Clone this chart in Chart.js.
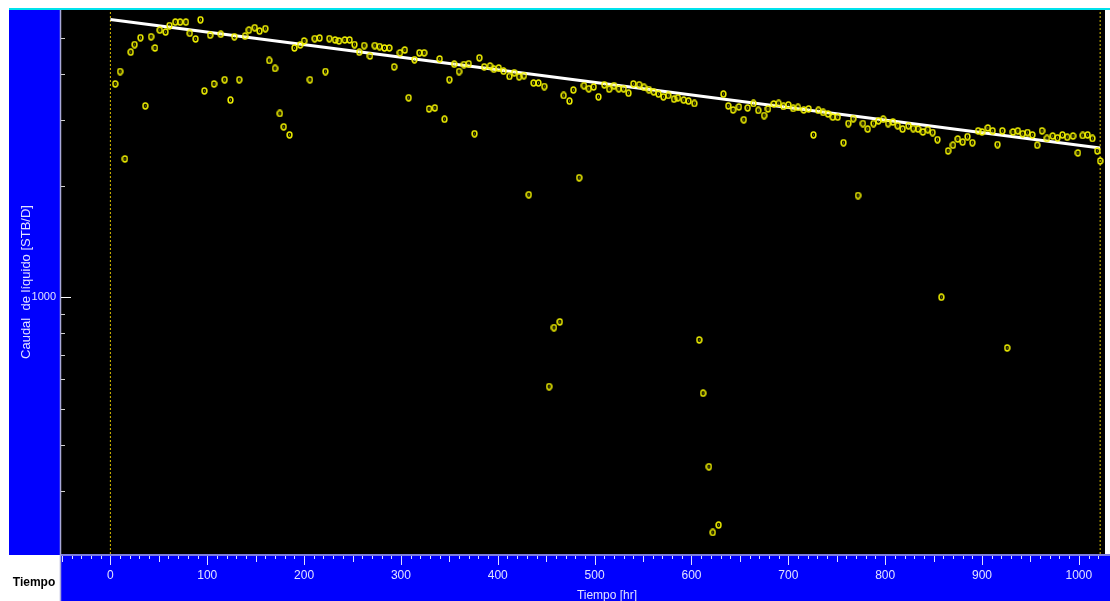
<!DOCTYPE html>
<html>
<head>
<meta charset="utf-8">
<title>Caudal de líquido vs Tiempo</title>
<script src="https://cdn.jsdelivr.net/npm/chart.js@4.4.1/dist/chart.umd.min.js"></script>
<style>
  html, body { margin: 0; padding: 0; background: #ffffff; overflow: hidden; }
  #wrap { width: 1110px; height: 601px; }
</style>
</head>
<body>
<div id="wrap"><canvas id="rateChart" width="1110" height="601"></canvas></div>
<script>
// measured liquid rate (STB/D) against elapsed time (hr)
const timeHr = [
  5, 10, 15, 21, 25, 31, 36, 42, 46, 51,
  57, 61, 67, 72, 78, 82, 88, 93, 97, 103,
  107, 114, 118, 124, 128, 133, 139, 143, 149, 154,
  160, 164, 170, 175, 179, 185, 190, 196, 200, 206,
  211, 216, 222, 226, 232, 236, 242, 247, 252, 257,
  262, 268, 273, 278, 283, 288, 293, 299, 304, 308,
  314, 319, 324, 329, 335, 340, 345, 350, 355, 360,
  365, 370, 376, 381, 386, 392, 396, 401, 406, 412,
  417, 422, 427, 432, 437, 442, 448, 453, 458, 464,
  468, 474, 478, 484, 489, 494, 499, 504, 510, 515,
  520, 525, 530, 535, 540, 546, 551, 556, 561, 566,
  571, 576, 582, 586, 592, 597, 603, 608, 612, 618,
  622, 628, 633, 638, 643, 649, 654, 658, 664, 669,
  675, 679, 685, 690, 695, 700, 705, 710, 716, 721,
  726, 731, 736, 741, 746, 751, 757, 762, 767, 772,
  777, 782, 788, 793, 798, 803, 808, 813, 818, 824,
  829, 834, 839, 844, 849, 854, 858, 865, 870, 875,
  880, 885, 890, 896, 900, 906, 911, 916, 921, 926,
  932, 937, 942, 947, 952, 957, 962, 967, 973, 978,
  983, 988, 994, 999, 1004, 1009, 1014, 1019, 1022
];
const liquidRate = [
  3760, 4060, 2360, 4580, 4800, 5010, 3280, 5040, 4700, 5250,
  5190, 5400, 5520, 5520, 5520, 5150, 4970, 5600, 3600, 5090,
  3760, 5120, 3860, 3400, 5040, 3860, 5060, 5250, 5330, 5220,
  5300, 4350, 4140, 3130, 2880, 2740, 4700, 4790, 4910, 3860,
  4980, 5000, 4060, 4980, 4940, 4910, 4940, 4940, 4800, 4580,
  4770, 4470, 4770, 4740, 4700, 4700, 4180, 4560, 4640, 3450,
  4370, 4560, 4560, 3220, 3240, 4390, 3020, 3860, 4250, 4060,
  4240, 4260, 2760, 4420, 4180, 4200, 4120, 4150, 4070, 3940,
  4030, 3930, 3960, 1890, 3780, 3780, 3700, 574, 828, 858,
  3500, 3380, 3620, 2100, 3720, 3650, 3690, 3470, 3740, 3640,
  3720, 3650, 3650, 3550, 3760, 3740, 3680, 3630, 3580, 3530,
  3470, 3500, 3420, 3450, 3400, 3380, 3330, 767, 551, 349,
  232, 243, 3530, 3280, 3200, 3260, 3010, 3240, 3330, 3190,
  3090, 3220, 3320, 3330, 3270, 3300, 3230, 3250, 3200, 3220,
  2740, 3190, 3150, 3120, 3060, 3060, 2610, 2940, 3030, 1880,
  2940, 2840, 2940, 2990, 3020, 2940, 2970, 2900, 2840, 2900,
  2850, 2840, 2790, 2830, 2780, 2660, 1000, 2480, 2570, 2670,
  2620, 2710, 2610, 2810, 2790, 2860, 2810, 2580, 2810, 730,
  2790, 2810, 2760, 2780, 2740, 2570, 2810, 2680, 2720, 2690,
  2740, 2700, 2720, 2450, 2730, 2740, 2680, 2480, 2330
];

// decline model line (end points)
const fitTime = [0, 1022];
const fitRate = [5610, 2527];

// start / end of the analysed period
const markerTimes = [0, 1022];

// axes
const timeRange = [-51, 1027];
const rateRange = [203, 5950];
const timeTicks = [0, 100, 200, 300, 400, 500, 600, 700, 800, 900, 1000];
const rateTicks = [300, 400, 500, 600, 700, 800, 900, 1000, 2000, 3000, 4000, 5000];
const rateLabels = [1000];

const FONT = "'Liberation Sans', Arial, sans-serif";
const LABEL_COLOR = '#e2e2ff';
const PANEL_BLUE = '#0000fe';

// little "o" marker with a dot in the middle
function ringMarker() {
  const c = document.createElement('canvas');
  c.width = 7;
  c.height = 8;
  const g = c.getContext('2d');
  g.strokeStyle = '#f2f200';
  g.lineWidth = 1.5;
  g.beginPath();
  g.ellipse(3.5, 4, 2.4, 2.9, 0, 0, Math.PI * 2);
  g.stroke();
  g.fillStyle = '#c8c800';
  g.fillRect(3, 3.5, 1, 1);
  return c;
}

// drop the extra room Chart.js keeps for edge tick labels
function noEdgePadding(scale) {
  scale.paddingTop = 0;
  scale.paddingBottom = 0;
  scale.paddingLeft = 0;
  scale.paddingRight = 0;
}

const panelPlugin = {
  id: 'panels',
  beforeDraw(chart) {
    const { ctx, chartArea: a, width, height } = chart;
    ctx.save();
    ctx.fillStyle = '#ffffff';
    ctx.fillRect(0, 0, width, height);
    // cyan strip along the top
    ctx.fillStyle = '#00e2ec';
    ctx.fillRect(9, a.top - 2, width - 9, 2);
    // blue panels behind the axes
    ctx.fillStyle = PANEL_BLUE;
    ctx.fillRect(9, a.top, a.left - 9, a.bottom - a.top + 1);
    ctx.fillRect(a.left - 1, a.bottom, width - a.left + 1, height - a.bottom);
    // plot area
    ctx.fillStyle = '#000000';
    ctx.fillRect(a.left, a.top, a.right - a.left, a.bottom - a.top);
    ctx.restore();
  },
  afterDraw(chart) {
    const { ctx, chartArea: a, width, height } = chart;
    const xs = chart.scales.x;
    const ys = chart.scales.y;
    ctx.save();

    // axis lines
    ctx.strokeStyle = '#a8a8d8';
    ctx.lineWidth = 1.5;
    ctx.beginPath();
    ctx.moveTo(a.left - 0.5, a.top);
    ctx.lineTo(a.left - 0.5, height);
    ctx.moveTo(a.left - 1, a.bottom + 1);
    ctx.lineTo(width, a.bottom + 1);
    ctx.stroke();

    // time tick marks: every 10 hr, longer at 50 and 100
    ctx.strokeStyle = '#e0e0ff';
    ctx.lineWidth = 1;
    ctx.beginPath();
    for (let t = -50; t <= 1020; t += 10) {
      const px = Math.round(xs.getPixelForValue(t)) + 0.5;
      const len = t % 100 === 0 ? 9 : (t % 50 === 0 ? 6 : 3);
      ctx.moveTo(px, a.bottom + 2);
      ctx.lineTo(px, a.bottom + 2 + len);
    }
    ctx.stroke();

    // rate tick marks
    rateTicks.forEach(v => {
      const py = Math.round(ys.getPixelForValue(v)) + 0.5;
      const major = rateLabels.includes(v);
      ctx.strokeStyle = major ? '#ffffff' : '#d0d0d0';
      ctx.beginPath();
      ctx.moveTo(a.left, py);
      ctx.lineTo(a.left + (major ? 10 : 4), py);
      ctx.stroke();
    });

    // axis titles
    ctx.fillStyle = LABEL_COLOR;
    ctx.font = '13px ' + FONT;
    ctx.textAlign = 'center';
    ctx.textBaseline = 'middle';
    ctx.save();
    ctx.translate(26, 282);
    ctx.rotate(-Math.PI / 2);
    ctx.fillText('Caudal  de líquido [STB/D]', 0, 0);
    ctx.restore();

    ctx.font = '12px ' + FONT;
    ctx.textBaseline = 'top';
    ctx.fillText('Tiempo [hr]', 607, 590);

    ctx.fillStyle = '#000000';
    ctx.font = 'bold 12px ' + FONT;
    ctx.textBaseline = 'middle';
    ctx.fillText('Tiempo', 34, 583);
    ctx.restore();
  }
};

const ctx = document.getElementById('rateChart').getContext('2d');

const points = timeHr.map((t, i) => ({ x: t, y: liquidRate[i] }));
const fitLine = fitTime.map((t, i) => ({ x: t, y: fitRate[i] }));

const markerSets = markerTimes.map(t => ({
  type: 'line',
  data: [{ x: t, y: rateRange[0] }, { x: t, y: rateRange[1] }],
  borderColor: '#d8c000',
  borderWidth: 1,
  borderDash: [2, 2],
  pointRadius: 0,
  fill: false
}));

new Chart(ctx, {
  type: 'scatter',
  data: {
    datasets: [
      {
        label: 'Caudal de líquido',
        data: points,
        pointStyle: ringMarker(),
        pointRadius: 3,
        showLine: false
      },
      {
        type: 'line',
        label: 'Ajuste',
        data: fitLine,
        borderColor: '#ffffff',
        borderWidth: 3,
        pointRadius: 0,
        fill: false
      },
      ...markerSets
    ]
  },
  options: {
    responsive: false,
    animation: false,
    layout: { padding: { top: 10, left: 0, right: 0, bottom: 0 } },
    plugins: {
      legend: { display: false },
      tooltip: { enabled: false }
    },
    scales: {
      x: {
        type: 'linear',
        min: timeRange[0],
        max: timeRange[1],
        afterFit(scale) { scale.height = 47; noEdgePadding(scale); },
        afterBuildTicks(scale) { scale.ticks = timeTicks.map(v => ({ value: v })); },
        grid: { display: false, drawTicks: false, tickLength: 0 },
        border: { display: false },
        ticks: {
          autoSkip: false,
          maxRotation: 0,
          padding: 14,
          color: LABEL_COLOR,
          font: { family: FONT, size: 12 },
          callback: v => String(v)
        }
      },
      y: {
        type: 'logarithmic',
        min: rateRange[0],
        max: rateRange[1],
        afterFit(scale) { scale.width = 61; noEdgePadding(scale); },
        afterBuildTicks(scale) { scale.ticks = rateTicks.map(v => ({ value: v })); },
        grid: { display: false, drawTicks: false, tickLength: 0 },
        border: { display: false },
        ticks: {
          autoSkip: false,
          padding: 5,
          color: LABEL_COLOR,
          font: { family: FONT, size: 11 },
          callback: v => rateLabels.includes(v) ? String(v) : ''
        }
      }
    }
  },
  plugins: [panelPlugin]
});
</script>
</body>
</html>
